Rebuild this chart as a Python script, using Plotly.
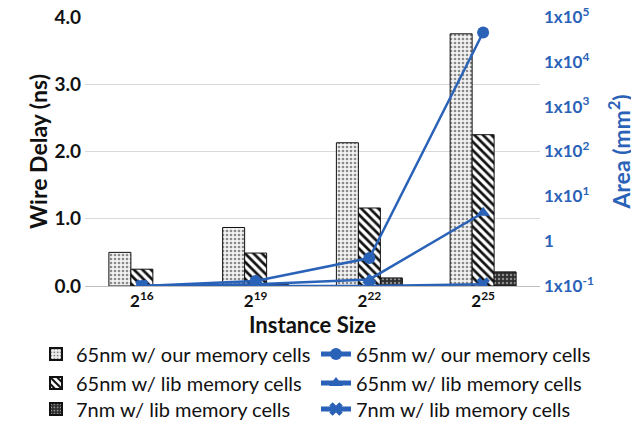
import plotly.graph_objects as go

categories = ["2<sup>16</sup>", "2<sup>19</sup>", "2<sup>22</sup>", "2<sup>25</sup>"]

delay_65_our = [0.50, 0.87, 2.13, 3.75]
delay_65_lib = [0.25, 0.49, 1.16, 2.25]
delay_7_lib = [0.01, 0.02, 0.12, 0.21]

area_65_our = [0.10, 0.13, 0.42, 45000]
area_65_lib = [0.10, 0.11, 0.14, 4.3]
area_7_lib = [0.10, 0.10, 0.10, 0.11]

area_tickvals = [0.1, 1, 10, 100, 1000, 10000, 100000]
area_ticktext = ["1x10<sup>-1</sup>", "1", "1x10<sup>1</sup>", "1x10<sup>2</sup>",
                 "1x10<sup>3</sup>", "1x10<sup>4</sup>", "1x10<sup>5</sup>"]

names = ["65nm w/ our memory cells", "65nm w/ lib memory cells", "7nm w/ lib memory cells"]

BLUE = "#2A62B8"
FONT = "Lato"

# the page body has an 8px margin, so the figure is offset by (8, 8)
OFF = 8
W, H = 639 - OFF, 425 - OFF
ML, MR, MT, MB = 85 - OFF, 99, 17 - OFF, 139
PW, PH = W - ML - MR, H - MT - MB


def px_x(px):
    return (px - OFF - ML) / PW


def px_y(py):
    return (H - MB - (py - OFF)) / PH


row_y = [354, 383, 409]
col_bar_x = 36
col_line_x = 316

fig = go.Figure()

bar_styles = [
    dict(shape=".", fgcolor="#8a8a8a", bgcolor="#f2f2f2", size=4, solidity=0.35),
    dict(shape="\\", fgcolor="#111111", bgcolor="#ffffff", size=6, solidity=0.45),
    dict(shape=".", fgcolor="#8c8c8c", bgcolor="#2e2e2e", size=4, solidity=0.3),
]
bar_data = [delay_65_our, delay_65_lib, delay_7_lib]
legend_defs = {}
for i, (vals, st) in enumerate(zip(bar_data, bar_styles)):
    lid = "legend" if i == 0 else f"legend{i + 1}"
    legend_defs[lid] = (col_bar_x, row_y[i])
    fig.add_trace(go.Bar(
        x=categories, y=vals, name=names[i],
        marker=dict(color=st["bgcolor"], line=dict(color="#111111", width=1),
                    pattern=dict(shape=st["shape"], fgcolor=st["fgcolor"],
                                 bgcolor=st["bgcolor"], size=st["size"],
                                 solidity=st["solidity"], fillmode="replace")),
        legend=lid,
    ))

line_data = [area_65_our, area_65_lib, area_7_lib]
symbols = ["circle", "triangle-up", "x"]
for i, (vals, sym) in enumerate(zip(line_data, symbols)):
    lid = f"legend{i + 4}"
    legend_defs[lid] = (col_line_x, row_y[i])
    fig.add_trace(go.Scatter(
        x=categories, y=vals, name=names[i], yaxis="y2",
        mode="lines+markers",
        line=dict(color=BLUE, width=2.5),
        marker=dict(symbol=sym, size=12, color=BLUE, line=dict(width=0)),
        legend=lid,
    ))

legend_layout = {}
for lid, (lx, ly) in legend_defs.items():
    legend_layout[lid] = dict(
        orientation="v", x=px_x(lx), y=px_y(ly), xanchor="left", yanchor="middle",
        font=dict(family=FONT, size=20, color="#111111"),
        bgcolor="rgba(0,0,0,0)", tracegroupgap=0, itemsizing="constant",
    )

fig.update_layout(
    width=W, height=H,
    margin=dict(l=ML, r=MR, t=MT, b=MB, autoexpand=False),
    paper_bgcolor="#ffffff", plot_bgcolor="#ffffff",
    font=dict(family=FONT, color="#111111"),
    barmode="group", bargap=0.42, bargroupgap=0,
    showlegend=True,
    xaxis=dict(
        type="category", range=[-0.5, 3.5], automargin=False,
        showline=True, linecolor="#BFBFBF", linewidth=1,
        ticks="", tickfont=dict(family=FONT, size=17, color="#111111", weight="bold"),
        title=dict(text="<b>Instance Size</b>", font=dict(family=FONT, size=22, color="#111111"), standoff=4),
        showgrid=False,
    ),
    yaxis=dict(
        range=[0, 4.0], tickvals=[0, 1, 2, 3, 4], tickformat=".1f", automargin=False,
        showgrid=True, gridcolor="#D9D9D9", gridwidth=1,
        zeroline=False, ticklabeloverflow="allow",
        tickfont=dict(family=FONT, size=19, color="#111111", weight="bold"),
        title=dict(text="<b>Wire Delay (ns)</b>", font=dict(family=FONT, size=23, color="#111111"), standoff=0),
        ticklabelstandoff=3,
    ),
    yaxis2=dict(
        type="log", range=[-1, 5], overlaying="y", side="right", automargin=False,
        tickvals=area_tickvals, ticktext=area_ticktext,
        showgrid=False, zeroline=False, ticklabeloverflow="allow",
        tickfont=dict(family=FONT, size=17, color=BLUE, weight="bold"),
        title=dict(text="<b>Area (mm<sup>2</sup>)</b>", font=dict(family=FONT, size=23, color=BLUE), standoff=20),
        ticklabelstandoff=3,
    ),
    **legend_layout,
)

fig.write_html("out.html")
